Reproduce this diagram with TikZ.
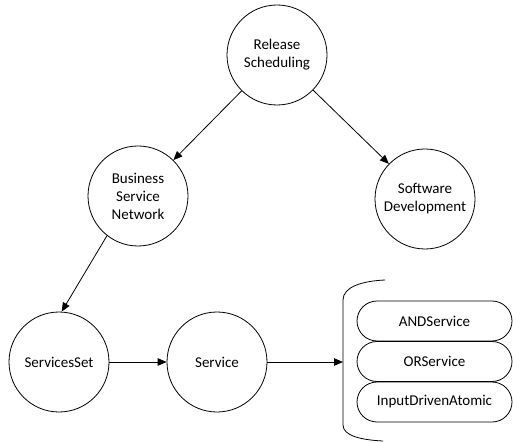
\documentclass[tikz,border=0pt]{standalone}
\usepackage{fontspec}
\setmainfont{Carlito}
\usetikzlibrary{arrows.meta,shapes.misc}
\tikzset{
  circ/.style={circle,draw,line width=0.8pt,minimum size=100pt,inner sep=0pt,align=center,font=\fontsize{15}{18}\selectfont},
  pill/.style={rounded rectangle,draw,line width=0.8pt,minimum width=155pt,minimum height=40pt,inner sep=0pt,font=\fontsize{15}{18}\selectfont},
  conn/.style={line width=0.8pt,-{Triangle[length=9pt,width=7.5pt]}}
}
\begin{document}
\begin{tikzpicture}[x=1pt,y=-1pt]
\useasboundingbox (0,0) rectangle (513,443);
\node[circ] (rs) at (277,55) {Release\\Scheduling};
\node[circ] (bsn) at (138,196) {Business\\Service\\Network};
\node[circ] (sd) at (425,199) {Software\\Development};
\node[circ] (ss) at (59,362) {ServicesSet};
\node[circ] (svc) at (217,362) {Service};
\node[pill] (and) at (434.5,321) {ANDService};
\node[pill] (or) at (434.5,361.5) {ORService};
\node[pill] (ida) at (434.5,402) {InputDrivenAtomic};
\draw[line width=0.8pt] (385,280) .. controls (362,281) and (343,287) .. (343,300) -- (343,425) .. controls (343,436) and (362,440) .. (383,441);
\coordinate (brk) at (343,362);
\draw[conn] (rs) -- (bsn);
\draw[conn] (rs) -- (sd);
\draw[conn] (bsn.232) -- (ss.87);
\draw[conn] (ss) -- (svc);
\draw[conn] (svc) -- (brk);
\end{tikzpicture}
\end{document}
